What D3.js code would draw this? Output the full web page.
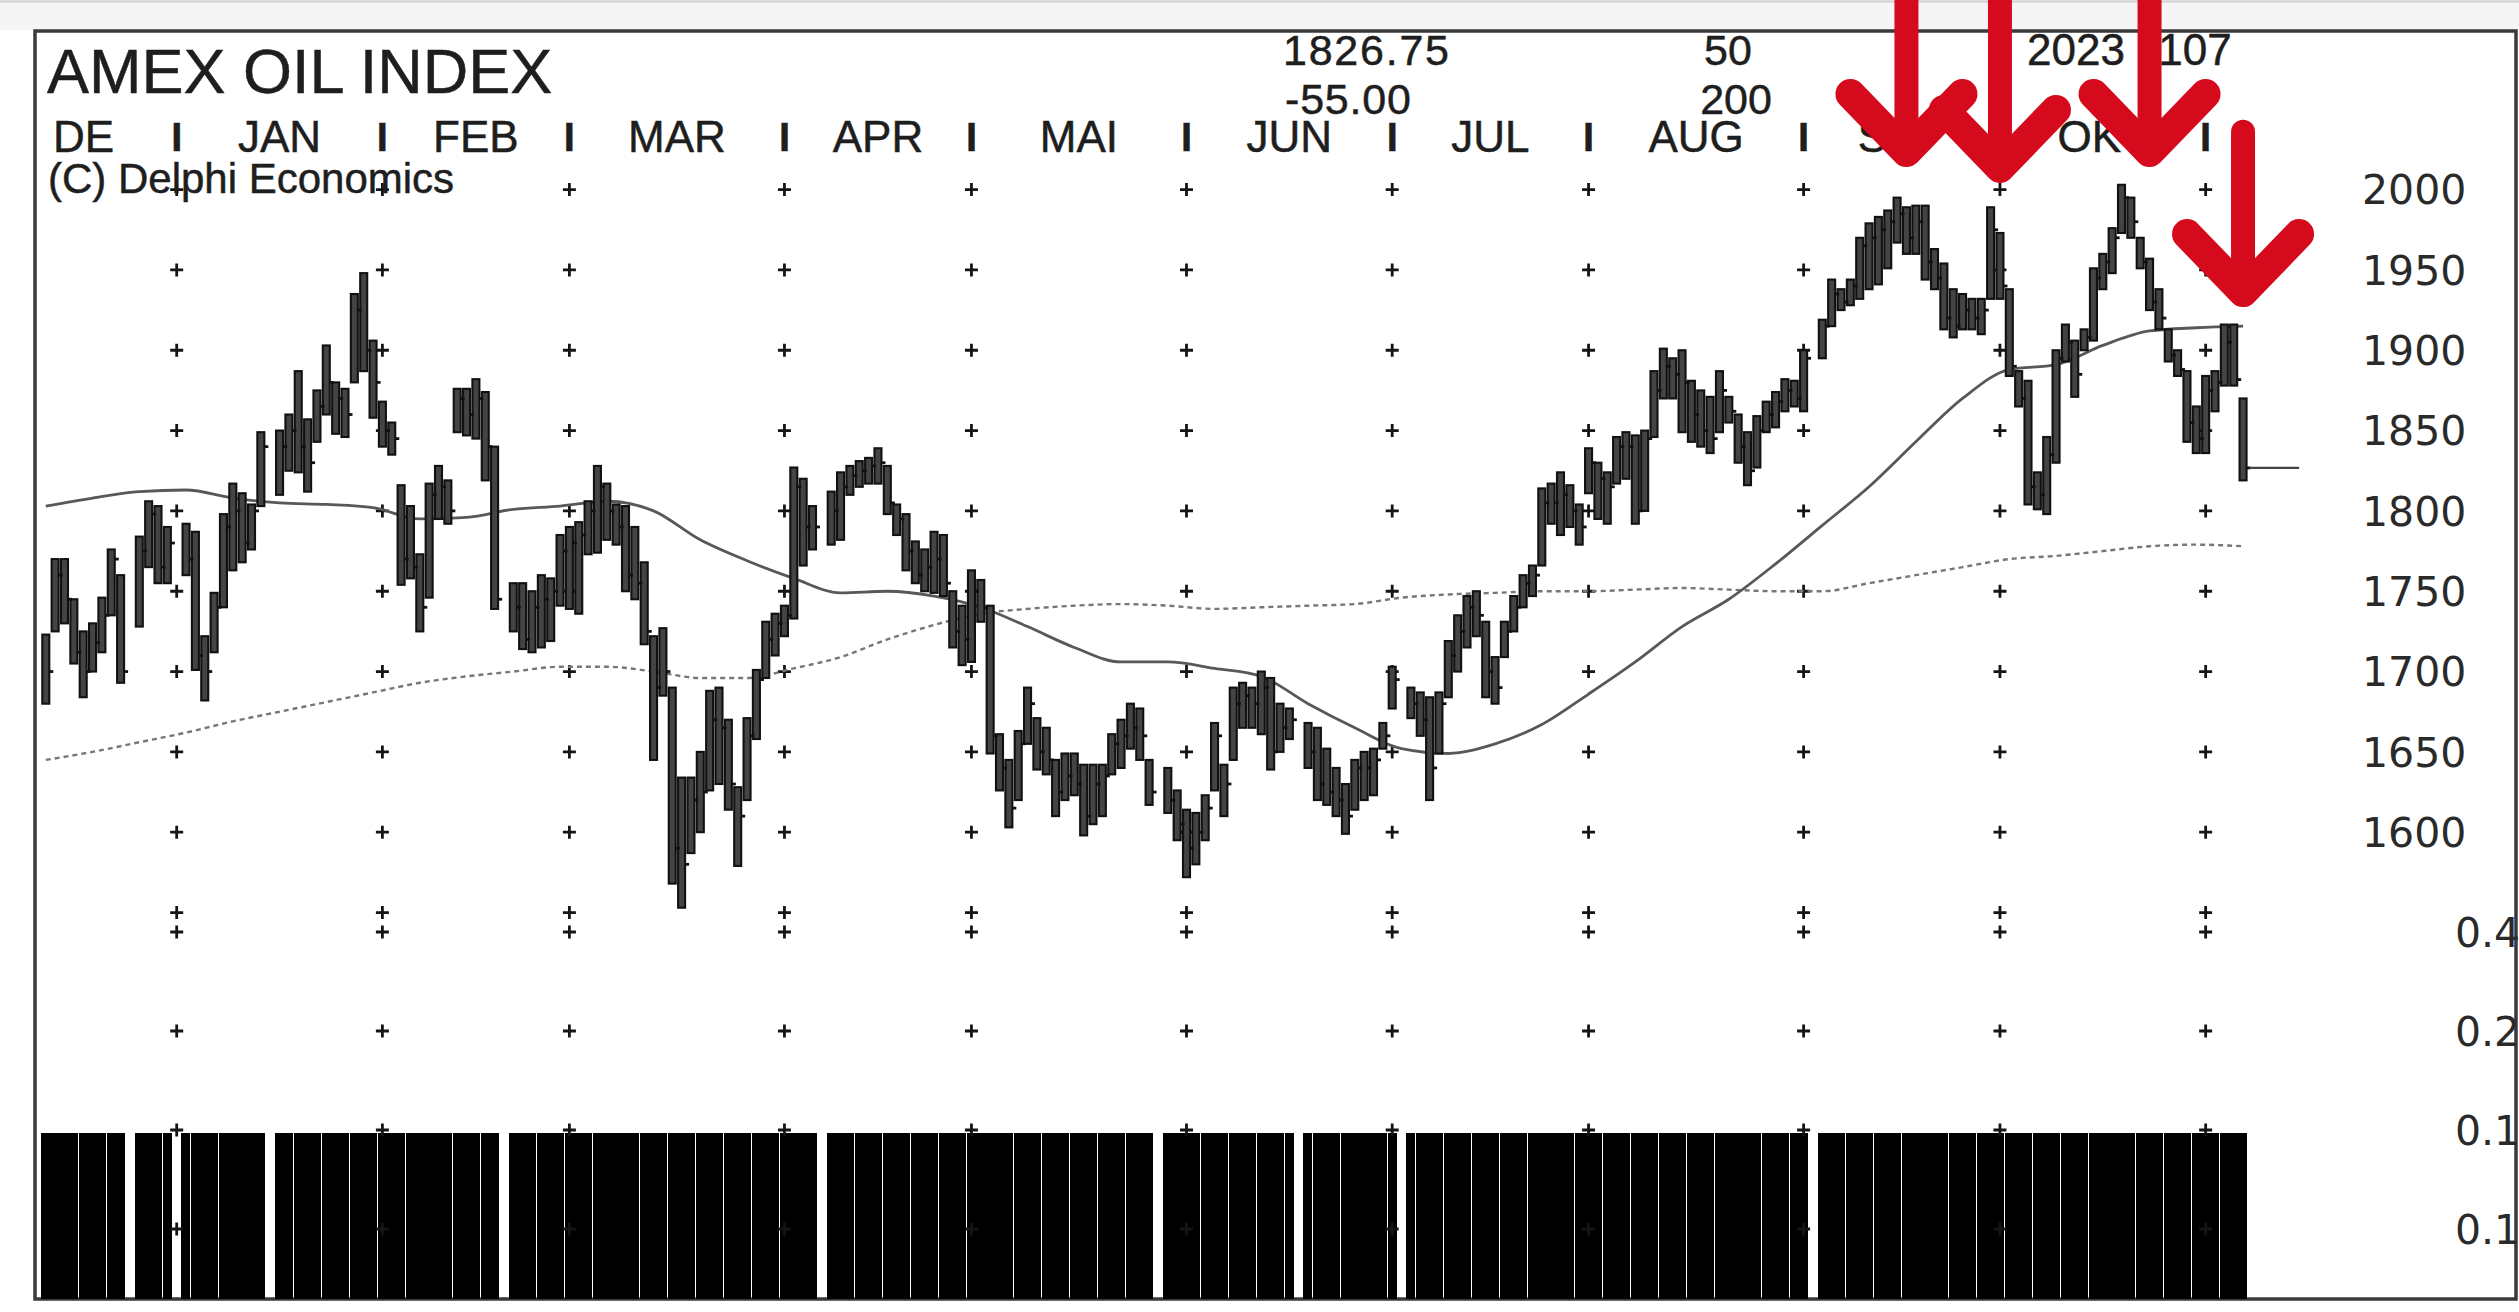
<!DOCTYPE html>
<html>
<head>
<meta charset="utf-8">
<script src="https://cdn.jsdelivr.net/npm/d3@7"></script>
<style>
  html, body { margin: 0; padding: 0; background: #fff; }
  svg { display: block; }
  .lbl { font-family: "Liberation Sans", Arial, sans-serif; fill: #1e1e1e; stroke: #1e1e1e; stroke-width: 0.5; }
  .ax { font-family: "DejaVu Sans", sans-serif; fill: #2a2a2a; }
</style>
</head>
<body>
<svg id="chart" width="2519" height="1312"></svg>
<script>
// ─── Data ─────────────────────────────────────────────────────────────────────
// one slot per weekday, 13 Dec 2022 .. 7 Nov 2023; null = exchange holiday

const highs = [
  // Dec
  1723, 1770, 1770, 1745, 1725, 1730, 1746, 1776, 1760, null, 1784, 1806, 1803, 1790,
  // Jan
  null, 1792, 1787, 1722, 1749, 1798, 1817, 1811, 1804, 1849, null, 1850, 1860, 1887, 1857, 1875, 1903, 1880, 1876, 1935, 1948, 1906,
  // Feb
  1868, 1855, 1816, 1803, 1773, 1817, 1828, 1819, 1876, 1876, 1882, 1874, 1840, null, 1755, 1755, 1750, 1760, 1758, 1785,
  // Mar
  1790, 1793, 1806, 1828, 1817, 1804, 1803, 1790, 1768, 1722, 1727, 1690, 1634, 1634, 1650, 1688, 1690, 1670, 1628, 1671, 1701, 1731, 1736,
  // Apr
  1741, 1827, 1820, 1803, null, 1812, 1824, 1828, 1831, 1833, 1839, 1828, 1804, 1798, 1781, 1776, 1787, 1785, 1750, 1741,
  // May
  1763, 1757, 1741, 1661, 1645, 1663, 1690, 1671, 1665, 1645, 1649, 1649, 1642, 1642, 1642, 1661, 1670, 1680, 1677, 1645, null, 1640, 1626,
  // Jun
  1614, 1612, 1623, 1668, 1642, 1690, 1693, 1690, 1700, 1696, 1680, 1677, null, 1668, 1665, 1652, 1640, 1630, 1645, 1650, 1652, 1668,
  // Jul
  1703, null, 1690, 1687, 1684, 1687, 1719, 1735, 1747, 1750, 1731, 1709, 1731, 1747, 1760, 1766, 1814, 1817, 1824, 1816, 1804,
  // Aug
  1839, 1830, 1824, 1846, 1849, 1847, 1850, 1887, 1901, 1895, 1900, 1881, 1875, 1871, 1887, 1871, 1860, 1849, 1859, 1868, 1874, 1882, 1881,
  // Sep
  1900, null, 1919, 1944, 1938, 1944, 1970, 1979, 1983, 1987, 1995, 1989, 1990, 1990, 1963, 1954, 1938, 1935, 1932, 1932, 1989,
  // Oct
  1973, 1938, 1887, 1881, 1824, 1846, 1900, 1916, 1906, 1913, 1951, 1960, 1976, 2003, 1995, 1970, 1957, 1938, 1913, 1900, 1887, 1865,
  // Nov
  1884, 1887, 1916, 1916, 1870
];

const lows = [
  1680, 1725, 1730, 1705, 1684, 1700, 1712, 1735, 1693, null, 1728, 1765, 1755, 1755,
  null, 1760, 1701, 1682, 1712, 1740, 1763, 1768, 1776, 1803, null, 1810, 1825, 1824, 1812, 1843, 1860, 1848, 1846, 1880, 1887, 1858,
  1840, 1835, 1754, 1758, 1725, 1746, 1795, 1792, 1849, 1847, 1845, 1819, 1739, null, 1725, 1714, 1712, 1715, 1719, 1741,
  1739, 1736, 1773, 1774, 1782, 1779, 1750, 1745, 1717, 1645, 1685, 1568, 1553, 1587, 1600, 1626, 1630, 1614, 1579, 1620, 1658, 1696, 1710,
  1722, 1733, 1766, 1776, null, 1779, 1782, 1810, 1815, 1817, 1817, 1798, 1785, 1763, 1755, 1750, 1749, 1747, 1715, 1704,
  1706, 1731, 1649, 1626, 1603, 1620, 1655, 1639, 1636, 1610, 1620, 1623, 1598, 1605, 1610, 1636, 1640, 1652, 1645, 1617, null, 1612, 1595,
  1572, 1580, 1595, 1626, 1610, 1645, 1665, 1665, 1661, 1639, 1650, 1658, null, 1640, 1620, 1617, 1610, 1599, 1614, 1620, 1623, 1652,
  1677, null, 1671, 1660, 1620, 1649, 1684, 1700, 1715, 1722, 1684, 1680, 1709, 1725, 1740, 1747, 1766, 1792, 1785, 1790, 1779,
  1811, 1795, 1792, 1817, 1820, 1792, 1800, 1846, 1870, 1870, 1849, 1843, 1840, 1836, 1849, 1855, 1830, 1816, 1827, 1849, 1852, 1862, 1865,
  1862, null, 1895, 1915, 1925, 1928, 1932, 1938, 1941, 1951, 1967, 1960, 1960, 1944, 1938, 1913, 1908, 1913, 1913, 1910, 1932,
  1932, 1884, 1865, 1804, 1801, 1798, 1830, 1893, 1871, 1900, 1906, 1938, 1948, 1973, 1970, 1951, 1925, 1913, 1893, 1884, 1843, 1836,
  1836, 1862, 1878, 1878, 1819
];

const closes = [
  1700, 1760, 1745, 1712, 1700, 1718, 1735, 1770, 1700, null, 1775, 1798, 1765, 1780,
  null, 1770, 1710, 1700, 1740, 1790, 1800, 1780, 1800, 1840, null, 1840, 1850, 1840, 1830, 1865, 1880, 1870, 1860, 1925, 1900, 1880,
  1850, 1845, 1770, 1765, 1740, 1810, 1815, 1800, 1870, 1860, 1870, 1840, 1745, null, 1740, 1720, 1740, 1745, 1750, 1775,
  1780, 1785, 1800, 1815, 1800, 1790, 1760, 1755, 1725, 1690, 1700, 1590, 1580, 1620, 1625, 1670, 1665, 1630, 1610, 1660, 1695, 1720, 1730,
  1735, 1815, 1790, 1790, null, 1800, 1815, 1822, 1825, 1828, 1830, 1805, 1795, 1775, 1760, 1765, 1770, 1755, 1725, 1720,
  1750, 1740, 1660, 1640, 1615, 1655, 1680, 1650, 1645, 1625, 1635, 1630, 1610, 1630, 1635, 1655, 1660, 1665, 1660, 1625, null, 1620, 1605,
  1590, 1600, 1615, 1660, 1630, 1680, 1685, 1680, 1690, 1650, 1665, 1670, null, 1650, 1630, 1625, 1620, 1610, 1640, 1640, 1645, 1660,
  1695, null, 1680, 1670, 1640, 1680, 1710, 1725, 1740, 1735, 1700, 1690, 1725, 1740, 1755, 1760, 1805, 1805, 1810, 1800, 1790,
  1830, 1820, 1815, 1840, 1840, 1800, 1845, 1875, 1890, 1885, 1880, 1860, 1850, 1845, 1875, 1862, 1840, 1825, 1850, 1860, 1868, 1875, 1870,
  1895, null, 1915, 1935, 1930, 1940, 1965, 1970, 1975, 1980, 1985, 1970, 1980, 1955, 1945, 1920, 1915, 1925, 1920, 1925, 1975,
  1940, 1890, 1870, 1815, 1810, 1835, 1895, 1905, 1885, 1908, 1945, 1955, 1970, 1995, 1980, 1955, 1930, 1920, 1897, 1888, 1855, 1845,
  1875, 1880, 1905, 1881.75, 1826.75
];

// moving averages every 5th weekday
const maStep = 5;
const ma50 = [1803, 1808, 1812, 1813, 1808, 1805, 1804, 1802, 1795, 1796, 1801, 1803, 1806, 1800, 1782, 1769,
  1758, 1749, 1750, 1747, 1740, 1728, 1715, 1706, 1706, 1702, 1697, 1680, 1665, 1652, 1649, 1655,
  1667, 1686, 1706, 1728, 1745, 1767, 1791, 1815, 1843, 1870, 1888, 1891, 1903, 1912, 1914, 1915];
const ma200 = [1645, 1650, 1656, 1662, 1669, 1675, 1681, 1687, 1693, 1697, 1700, 1703, 1703, 1700, 1696, 1696,
  1702, 1709, 1720, 1729, 1736, 1739, 1741, 1742, 1741, 1739, 1740, 1741, 1742, 1746, 1748, 1749,
  1750, 1750, 1751, 1752, 1751, 1750, 1750, 1755, 1760, 1765, 1770, 1772, 1775, 1778, 1779, 1778];

const monthLabels = ["DE", "JAN", "FEB", "MAR", "APR", "MAI", "JUN", "JUL", "AUG", "SEP", "OKT"];
const priceTicks = [2000, 1950, 1900, 1850, 1800, 1750, 1700, 1650, 1600];
const priceGrid = [2000, 1950, 1900, 1850, 1800, 1750, 1700, 1650, 1600, 1550];
const lowerTicks = [0.4, 0.2, 0.1, 0.05];
const lowerCap = 0.1;

const lastClose = 1826.75;
const change = -55.00;
const maLengths = [50, 200];
const stamp = "2023 1107";

// red arrows: weekday index, tip price, top price
const arrowIdx = [199, 209, 225, 235];
const arrowTip = [2023.4, 2013.5, 2023.4, 1936.2];
const arrowTop = [2135, 2118, 2135, 2036];

// ─── Scales ───────────────────────────────────────────────────────────────────

const days = d3.timeDay.range(new Date(2022, 11, 13), new Date(2023, 10, 8))
  .filter(d => d.getDay() !== 0 && d.getDay() !== 6);

const step = 9.35;
const x = d3.scaleLinear().domain([0, days.length - 1]).range([45.8, 45.8 + step * (days.length - 1)]);
const y = d3.scaleLinear().domain([1600, 2000]).range([832.2, 189.6]);
const yLow = d3.scaleLog().domain([0.05, 0.4]).range([1229, 932]);

const monthCols = days.map((d, i) => i).filter(i => i > 0 && days[i].getMonth() !== days[i - 1].getMonth());

const svg = d3.select("#chart");

// ─── Frame ────────────────────────────────────────────────────────────────────

svg.append("rect").attr("x", 0).attr("y", 0).attr("width", 2519).attr("height", 30).attr("fill", "#f5f5f5");
svg.append("line").attr("x1", 0).attr("x2", 2519).attr("y1", 1.5).attr("y2", 1.5)
  .attr("stroke", "#cfcfcf").attr("stroke-width", 2);
svg.append("rect")
  .attr("x", 35).attr("y", 31).attr("width", 2481).attr("height", 1268)
  .attr("fill", "#fff").attr("stroke", "#3a3a3a").attr("stroke-width", 3.5);

// ─── Lower panel bars ─────────────────────────────────────────────────────────

const panelBottom = 1299;
svg.append("g")
  .attr("shape-rendering", "crispEdges")
  .selectAll("rect")
  .data(closes.map((c, i) => ({ c, i })).filter(d => d.c !== null))
  .join("rect")
  .attr("x", d => x(d.i) - step / 2)
  .attr("width", step - 0.3)
  .attr("y", yLow(lowerCap) + 3)
  .attr("height", d => panelBottom - yLow(lowerCap) - 3)
  .attr("fill", "#000");

// ─── Grid crosses ─────────────────────────────────────────────────────────────

const rowsY = priceGrid.map(v => y(v)).concat(lowerTicks.map(v => yLow(v)));
const crosses = [];
monthCols.forEach(i => rowsY.forEach(ry => crosses.push([x(i), ry])));
svg.append("g").selectAll("path")
  .data(crosses)
  .join("path")
  .attr("d", d => `M${d[0] - 6.5},${d[1]}h13M${d[0]},${d[1] - 6.5}v13`)
  .attr("stroke", "#151515")
  .attr("stroke-width", 2.8);

// ─── Texts ────────────────────────────────────────────────────────────────────

svg.append("text").attr("class", "lbl").attr("x", 47).attr("y", 93)
  .attr("font-size", 63).text("AMEX OIL INDEX");

svg.append("text").attr("class", "lbl").attr("x", 48).attr("y", 193)
  .attr("font-size", 42).text("(C) Delphi Economics");

// month row
svg.append("text").attr("class", "lbl").attr("x", 53).attr("y", 152)
  .attr("font-size", 44).text(monthLabels[0]);
svg.append("g").selectAll("text")
  .data(monthLabels.slice(1))
  .join("text")
  .attr("class", "lbl")
  .attr("x", (d, k) => (x(monthCols[k]) + x(monthCols[k + 1])) / 2)
  .attr("y", 152)
  .attr("text-anchor", "middle")
  .attr("font-size", 44)
  .text(d => d);
svg.append("g").selectAll("text")
  .data(monthCols)
  .join("text")
  .attr("class", "lbl")
  .attr("x", i => x(i))
  .attr("y", 151)
  .attr("text-anchor", "middle")
  .attr("font-size", 40)
  .attr("font-weight", 700)
  .text("I");

// header numbers
svg.append("text").attr("class", "lbl").attr("x", 1283).attr("y", 65).attr("font-size", 43)
  .attr("textLength", 166).text(lastClose.toFixed(2));
svg.append("text").attr("class", "lbl").attr("x", 1285).attr("y", 114).attr("font-size", 43)
  .attr("textLength", 126).text(change.toFixed(2));
svg.append("text").attr("class", "lbl").attr("x", 1728).attr("y", 65).attr("font-size", 43)
  .attr("text-anchor", "middle").text(maLengths[0]);
svg.append("text").attr("class", "lbl").attr("x", 1736).attr("y", 114).attr("font-size", 43)
  .attr("text-anchor", "middle").text(maLengths[1]);
svg.append("text").attr("class", "lbl").attr("x", 2027).attr("y", 65).attr("font-size", 44)
  .text(stamp);

// right axis
svg.append("g").selectAll("text")
  .data(priceTicks)
  .join("text")
  .attr("class", "ax")
  .attr("x", 2362)
  .attr("y", d => y(d))
  .attr("dy", "0.36em")
  .attr("font-size", 41)
  .text(d => d);

svg.append("g").selectAll("text")
  .data(lowerTicks)
  .join("text")
  .attr("class", "ax")
  .attr("x", 2455)
  .attr("y", d => yLow(d))
  .attr("dy", "0.36em")
  .attr("font-size", 41)
  .text(d => d3.format(".1f")(d));

// ─── Moving averages ──────────────────────────────────────────────────────────

const maLine = d3.line()
  .x((d, k) => x(k * maStep))
  .y(d => y(d))
  .curve(d3.curveMonotoneX);

svg.append("path").attr("d", maLine(ma200))
  .attr("fill", "none").attr("stroke", "#777").attr("stroke-width", 2.4)
  .attr("stroke-dasharray", "5,4");
svg.append("path").attr("d", maLine(ma50))
  .attr("fill", "none").attr("stroke", "#585858").attr("stroke-width", 2.8);

// ─── Price bars ───────────────────────────────────────────────────────────────

const bars = highs.map((h, i) => ({ i, h, l: lows[i], c: closes[i] })).filter(d => d.h !== null);
const gBars = svg.append("g");
gBars.selectAll("rect")
  .data(bars)
  .join("rect")
  .attr("x", d => x(d.i) - 3.5)
  .attr("width", 7)
  .attr("y", d => y(d.h))
  .attr("height", d => Math.max(2, y(d.l) - y(d.h)))
  .attr("fill", "#444")
  .attr("stroke", "#111")
  .attr("stroke-width", 2.1);
gBars.selectAll("line")
  .data(bars)
  .join("line")
  .attr("x1", d => x(d.i) + 3.5)
  .attr("x2", d => x(d.i) + 7.5)
  .attr("y1", d => y(d.c))
  .attr("y2", d => y(d.c))
  .attr("stroke", "#111")
  .attr("stroke-width", 2.8);

// last close marker
svg.append("line")
  .attr("x1", x(days.length - 1) + 6).attr("x2", x(days.length + 5))
  .attr("y1", y(lastClose)).attr("y2", y(lastClose))
  .attr("stroke", "#444").attr("stroke-width", 2.2);

// ─── Red arrows ───────────────────────────────────────────────────────────────

const red = "#d50b1d";
const gArr = svg.append("g");
arrowIdx.forEach((i, k) => {
  const cx = x(i);
  const ty = y(arrowTip[k]);
  gArr.append("line")
    .attr("x1", cx).attr("x2", cx)
    .attr("y1", y(arrowTop[k])).attr("y2", ty - 8)
    .attr("stroke", red).attr("stroke-width", 24).attr("stroke-linecap", "round");
  gArr.append("path")
    .attr("d", `M${cx - 56},${ty - 58}L${cx},${ty}L${cx + 56},${ty - 58}`)
    .attr("fill", "none").attr("stroke", red).attr("stroke-width", 30)
    .attr("stroke-linecap", "round").attr("stroke-linejoin", "round");
});
</script>
</body>
</html>
